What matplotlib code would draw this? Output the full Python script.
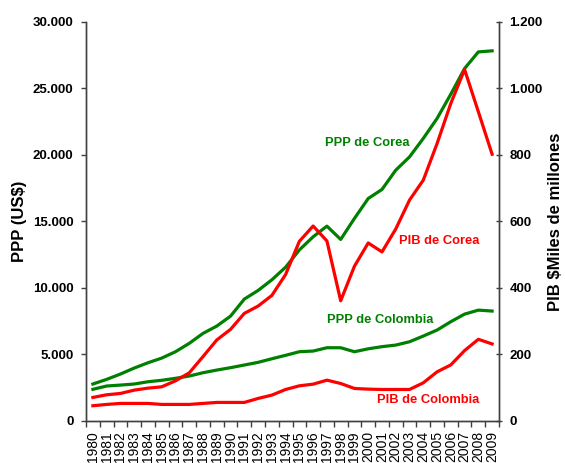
import matplotlib
matplotlib.use("Agg")
import matplotlib.pyplot as plt
from matplotlib.ticker import FixedLocator, FuncFormatter
import numpy as np

plt.rcParams['font.family'] = ['Liberation Sans', 'DejaVu Sans']

# años
years = list(range(1980, 2010))

# PPP en US$ (eje izquierdo)
ppp_corea = [2760, 3110, 3510, 3960, 4360, 4710, 5190, 5820, 6570, 7120,
             7870, 9150, 9800, 10600, 11550, 12850, 13840, 14640, 13640, 15220,
             16720, 17400, 18850, 19850, 21240, 22740, 24570, 26500, 27750, 27830]
ppp_colombia = [2360, 2610, 2680, 2760, 2930, 3040, 3190, 3360, 3610, 3810,
                3990, 4190, 4390, 4660, 4920, 5190, 5240, 5490, 5490, 5190,
                5410, 5570, 5690, 5940, 6370, 6820, 7450, 8020, 8320, 8250]

# PIB en miles de millones de US$ (eje derecho)
pib_corea = [70, 78, 82, 92, 98, 102, 120, 144, 193, 243,
             275, 323, 345, 377, 440, 540, 586, 541, 361, 465,
             535, 508, 577, 664, 724, 834, 955, 1057, 930, 802]
pib_colombia = [45, 49, 52, 52, 52, 49, 49, 49, 52, 55,
                55, 55, 67, 77, 94, 105, 110, 122, 112, 97,
                95, 94, 94, 94, 114, 147, 168, 211, 245, 231]

GREEN = "#008000"
RED = "#ff0000"
AXC = "#404040"

fig = plt.figure(figsize=(5.65, 4.63), dpi=100)
ax = fig.add_axes([86/565, (463-420.7)/463, 413/565, 398.7/463])
ax2 = ax.twinx()

x = np.arange(len(years))
ax.plot(x, ppp_corea, color=GREEN, lw=2.3, zorder=3)
ax.plot(x, ppp_colombia, color=GREEN, lw=2.3, zorder=3)
ax2.plot(x, pib_corea, color=RED, lw=2.3, zorder=3)
ax2.plot(x, pib_colombia, color=RED, lw=2.3, zorder=3)

ax.set_xlim(-0.5, len(years) - 0.5)
ax.set_ylim(0, 30000)
ax2.set_ylim(0, 1200)

fmt = FuncFormatter(lambda v, p: f"{v:,.0f}".replace(",", "."))
ax.yaxis.set_major_locator(FixedLocator(np.arange(0, 30001, 5000)))
ax.yaxis.set_major_formatter(fmt)
ax2.yaxis.set_major_locator(FixedLocator(np.arange(0, 1201, 200)))
ax2.yaxis.set_major_formatter(fmt)

# años: etiquetas en el centro, marcas entre categorías
ax.set_xticks(x)
ax.set_xticklabels([str(y) for y in years], rotation=90, fontsize=10)
ax.set_xticks(np.arange(-0.5, len(years), 1), minor=True)
ax.tick_params(axis='x', which='major', length=0, pad=7.5)
ax.tick_params(axis='x', which='minor', length=4, width=1, color=AXC, direction='out')

ax.tick_params(axis='y', which='major', length=3.5, width=1, color=AXC, direction='out',
               pad=5.5, labelsize=9.5)
ax2.tick_params(axis='y', which='major', length=5, width=1, color=AXC, direction='inout',
                pad=5, labelsize=9.5)
for lab in ax.get_yticklabels() + ax2.get_yticklabels():
    lab.set_fontweight('bold')

for a in (ax, ax2):
    a.spines['top'].set_visible(False)
    for s in ('left', 'right', 'bottom'):
        a.spines[s].set_color(AXC)
        a.spines[s].set_linewidth(1)

fig.text(20/565, 1 - 221/463, "PPP (US$)", rotation=90, ha='center', va='center',
         fontsize=12, fontweight='bold')
fig.text(556/565, 1 - 222/463, "PIB $Miles de millones", rotation=90, ha='center',
         va='center', fontsize=12, fontweight='bold')

# etiquetas de las series
ax.text(0.680, 0.6965, "PPP de Corea", transform=ax.transAxes, color=GREEN,
        fontsize=9.3, fontweight='bold', ha='center', va='center')
ax.text(0.855, 0.4507, "PIB de Corea", transform=ax.transAxes, color=RED,
        fontsize=9.3, fontweight='bold', ha='center', va='center')
ax.text(0.712, 0.2525, "PPP de Colombia", transform=ax.transAxes, color=GREEN,
        fontsize=9.3, fontweight='bold', ha='center', va='center')
ax.text(0.828, 0.052, "PIB de Colombia", transform=ax.transAxes, color=RED,
        fontsize=9.3, fontweight='bold', ha='center', va='center')

fig.savefig("out.png", dpi=100)
